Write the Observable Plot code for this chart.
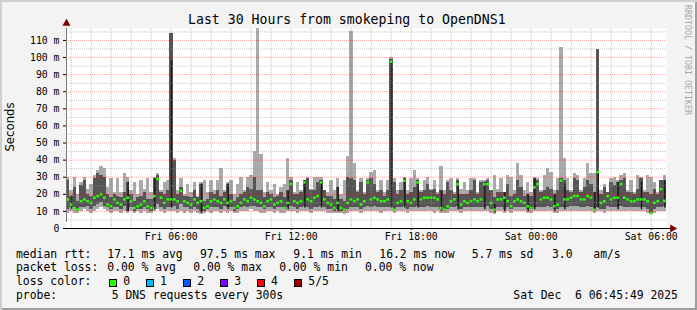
<!DOCTYPE html>
<html><head><meta charset="utf-8">
<script src="https://cdn.jsdelivr.net/npm/d3@7"></script>
<script src="https://cdn.jsdelivr.net/npm/@observablehq/plot@0.6"></script>
<style>
html,body{margin:0;padding:0;background:#ffffff;}
#chart{position:relative;width:697px;height:310px;background:#f3f3f3;overflow:hidden;
  box-shadow: inset 2px 2px 0 #cfcfcf, inset -2px -2px 0 #9e9e9e;
  font-family:"DejaVu Sans Mono",monospace;color:#000;}
#chart svg{position:absolute;left:0;top:0;}
.t{position:absolute;white-space:pre;line-height:1;}
.sw{position:absolute;width:8px;height:8px;box-sizing:border-box;border:1px solid #000;}
</style></head><body><div id="chart"></div>
<script>
// ---- data (10-minute samples, values in ms) ----
const startTime = "2025-12-05T00:45:49Z";
const endTime = "2025-12-06T06:45:49Z";
const stepMinutes = 10;
const lo  = [9,10,9,9,10,11,10,9,10,11,12,11,10,9,10,10,9,10,9,10,9,10,9,10,9,9,10,11,10,9,
             10,10,10,9,10,9,10,9,10,9,8,9,10,9,10,10,9,10,9,10,9,9,10,10,10,11,10,10,9,9,
             10,10,9,10,9,9,10,10,10,9,10,10,10,9,10,10,10,10,9,9,9,9,9,8,9,10,10,10,9,10,
             10,10,10,10,9,10,10,10,9,10,10,10,9,10,10,10,10,10,10,10,9,10,9,9,9,10,10,10,9,10,
             10,10,10,10,10,10,10,9,8,10,10,9,10,9,10,10,10,10,9,9,10,10,10,10,10,10,9,9,10,10,
             10,10,10,10,10,10,10,10,9,10,10,9,10,10,10,10,10,10,10,10,10,10,10,10,9,8,9,10,10,10];
const dlo = [11,12,11,10,12,12,13,11,13,14,15,13,12,11,12,12,11,13,10,12,10,11,11,12,11,10,12,14,12,11,
             12,12,13,11,14,12,12,11,12,11,10,10,11,12,12,12,11,13,12,12,10,11,12,13,12,13,13,12,12,11,
             12,12,11,12,12,11,12,13,12,11,12,13,12,11,12,12,13,12,11,11,10,11,10,10,11,12,12,12,11,12,
             13,12,13,12,12,12,12,12,11,12,12,13,11,12,12,13,12,12,13,12,12,12,11,10,11,12,12,13,11,12,
             12,12,12,12,12,12,13,11,10,12,12,11,12,11,12,12,12,12,11,11,12,12,12,12,13,12,11,11,12,12,
             12,13,13,13,12,12,13,12,10,12,11,11,13,12,12,12,13,12,12,12,12,12,12,12,11,9,11,12,12,13];
const med = [17,14,12,11,16,17,16,15,18,19,20,18,14,13,17,15,14,17,18,16,12,13,14,16,13,12,19,29,18,15,
             17,17,17,16,22,16,15,14,17,15,16,12,13,16,17,16,15,17,15,16,12,13,15,17,16,18,17,16,15,13,
             16,17,14,15,16,12,15,26,16,15,16,27,17,16,18,19,27,17,15,14,12,15,12,11,15,17,16,17,14,16,
             27,17,18,17,16,16,17,97.5,11,15,16,28,16,15,17,27,17,18,18,18,18,17,12,11,13,16,17,26,14,16,
             15,16,17,16,17,26,26,15,11,17,17,18,16,13,16,17,16,15,13,12,24,26,17,18,18,17,13,14,28,17,
             17,18,19,19,17,17,19,18,11,33,15,16,19,17,18,18,26,18,17,16,16,17,17,17,16,9.1,15,16,23,16.2];
const dhi = [28,19,24,16,25,28,20,19,29,32,31,30,20,18,20,
             19,18,21,27,20,16,18,19,21,17,17,29,31,21,20,
             22,114,40,20,24,19,19,18,22,18,26,16,17,21,20,
             22,19,21,26,20,16,18,20,21,24,23,30,22,22,18,
             21,20,18,19,21,18,22,28,20,20,21,28,29,22,22,
             27,28,22,19,19,17,24,17,16,30,29,28,21,27,20,
             28,29,26,21,22,19,22,99,27,20,22,29,20,21,24,
             28,21,22,26,22,23,20,22,20,27,22,20,28,20,20,
             20,22,28,20,27,27,28,22,18,21,21,21,26,19,20,
             28,24,19,20,19,29,28,21,22,24,23,20,22,29,28,
             22,21,29,28,21,24,28,26,21,105,20,24,21,27,25,
             27,28,29,21,21,20,23,29,21,21,20,23,20,28,28];
const hi  = [30,22,30,20,27,30,23,26,31,34,36,35,24,29,21,
             29,21,32,30,22,27,20,28,23,29,21,30,32,22,27,
             28,114,41,22,29,20,26,21,27,19,27,28,21,28,22,
             28,35,22,27,28,20,26,30,22,30,31,45,118,43,21,
             27,22,26,20,24,26,41,30,21,27,22,28,30,23,30,
             30,30,22,21,28,22,29,20,28,42,115,38,22,29,21,
             29,33,34,22,28,21,28,100,29,22,27,30,22,29,34,
             29,22,28,30,23,28,21,36,22,28,29,21,29,23,27,
             22,29,29,21,28,28,29,22,31,23,29,21,31,30,22,
             38,31,22,27,21,30,29,22,31,35,33,22,29,106,41,
             29,22,32,31,22,29,38,32,32,105,22,26,21,29,30,
             28,31,32,22,28,21,31,30,22,31,30,27,21,28,31];
// darkest (black) strokes: sample index, low, high
const blackIdx = [1,18,26,31,40,48,66,71,76,81,97,101,105,112,117,125,128,131,138,140,146,149,158,159,165,172,179];
const blackLo  = [11,10,11,12,9,11,11,12,12,10,12,12,12,10,11,11,9,10,10,11,10,11,10,12,11,11,12];
const blackHi  = [19,27,29,98,26,26,22,28,28,24,98,29,28,22,27,27,14,21,20,29,20,26,21,33,27,27,28];

const yTicks = [0,10,20,30,40,50,60,70,80,90,100,110];
const yTickLabels = ["0","10 m","20 m","30 m","40 m","50 m","60 m","70 m","80 m","90 m","100 m","110 m"];
const xTicks = ["2025-12-05T06:00:00Z","2025-12-05T12:00:00Z","2025-12-05T18:00:00Z","2025-12-06T00:00:00Z","2025-12-06T06:00:00Z"];
const xTickLabels = ["Fri 06:00","Fri 12:00","Fri 18:00","Sat 00:00","Sat 06:00"];

const lossLabels = ["0","1","2","3","4","5/5"];
const lossColors = ["#26ff00","#00b8ff","#0059ff","#7e00ff","#ff0000","#a10000"];

const title = "Last 30 Hours from smokeping to OpenDNS1";
const yLabel = "Seconds";
const rttLine = ["median rtt:","17.1 ms avg","97.5 ms max","9.1 ms min","16.2 ms now","5.7 ms sd","3.0","am/s"];
const lossLine = ["packet loss:","0.00 % avg","0.00 % max","0.00 % min","0.00 % now"];
const probeLine = ["probe:","5 DNS requests every 300s"];
const stamp = "Sat Dec  6 06:45:49 2025";
const credit = "RRDTOOL / TOBI OETIKER";

// ---- build ----
const start = new Date(startTime), end = new Date(endTime);
const stepMs = stepMinutes*60000;
const samples = lo.map((v,i)=>({t0:new Date(+start+i*stepMs), t1:new Date(+start+(i+1)*stepMs),
  lo:v, dlo:dlo[i], med:med[i], dhi:dhi[i], hi:hi[i]}));
const blacks = blackIdx.map((k,j)=>({t:new Date(+start+(k+0.5)*stepMs), lo:blackLo[j], hi:blackHi[j]}));
const xTickDates = xTicks.map(s=>new Date(s));
const xLabelMap = new Map(xTickDates.map((d,i)=>[+d, xTickLabels[i]]));
const yLabelMap = new Map(yTicks.map((d,i)=>[d, yTickLabels[i]]));
const yMax = 117;
const majorY = d3.range(10, yMax, 10);
const minorY = d3.range(5, yMax, 10);
const allHours = d3.utcHour.range(start, end);
const majorX = allHours.filter(d=>d.getUTCHours()%3===0);
const minorX = allHours.filter(d=>d.getUTCHours()%3!==0);

const plot = Plot.plot({
  width: 697, height: 310,
  marginLeft: 66, marginRight: 31, marginTop: 28, marginBottom: 82,
  style: {background:"transparent", fontFamily:"DejaVu Sans Mono", fontSize:"9.8px", color:"#000", overflow:"visible"},
  x: {type:"utc", domain:[start,end], ticks:xTickDates, tickFormat:d=>xLabelMap.get(+d), tickSize:2, tickPadding:3, label:null},
  y: {domain:[0,yMax], ticks:yTicks, tickFormat:d=>yLabelMap.get(d), tickSize:3, tickPadding:4, label:null},
  marks: [
    Plot.frame({fill:"#ffffff", stroke:"none"}),
    Plot.rect(samples, {x1:"t0", x2:"t1", y1:"lo", y2:"hi", fill:"#aaaaaa", clip:true, shapeRendering:"crispEdges"}),
    Plot.rect(samples, {x1:"t0", x2:"t1", y1:"dlo", y2:"dhi", fill:"#555555", clip:true, shapeRendering:"crispEdges"}),
    Plot.ruleX(blacks, {x:"t", y1:"lo", y2:"hi", stroke:"#161616", strokeWidth:1.4}),
    Plot.ruleY(samples, {x1:"t0", x2:"t1", y:"med", stroke:lossColors[0], strokeWidth:2.5, insetLeft:0.3, insetRight:0.3}),
    Plot.ruleY(minorY, {stroke:"rgba(150,150,150,0.55)", strokeDasharray:"1,1"}),
    Plot.ruleX(minorX, {stroke:"rgba(150,150,150,0.55)", strokeDasharray:"1,1"}),
    Plot.ruleY(majorY, {stroke:"rgba(255,0,0,0.35)", strokeDasharray:"1,1"}),
    Plot.ruleX(majorX, {stroke:"rgba(255,0,0,0.35)", strokeDasharray:"1,1"}),
    Plot.ruleX([start], {y1:0, y2:yMax, stroke:"#777777", insetTop:-6}),
    Plot.ruleY([0], {stroke:"#000000", insetLeft:-3, insetRight:-5}),
    Plot.dot([start], {x:d=>d, y:()=>yMax, dy:-5, symbol:"triangle", r:3, fill:"#7f0000", stroke:"none"}),
    Plot.dot([end], {x:d=>d, y:()=>0, dx:6, symbol:"triangle", rotate:90, r:3, fill:"#7f0000", stroke:"none"})
  ]
});
const chart = document.getElementById("chart");
chart.appendChild(plot);

function put(txt, x, base, size, extra) {
  const d = document.createElement("div");
  d.className = "t"; d.textContent = txt;
  d.style.fontSize = size + "px";
  d.style.left = x + "px";
  d.style.top = (base - 0.846*size) + "px";
  if (extra) Object.assign(d.style, extra);
  chart.appendChild(d);
  return d;
}
const LF = 11.4;
put(title, 188, 24, 13.2);
const yl = document.createElement("div");
yl.className = "t"; yl.textContent = yLabel;
Object.assign(yl.style, {fontFamily:'"DejaVu Sans",sans-serif', fontSize:"11.7px", left:"11px", top:"127px",
  transform:"translate(-50%,-50%) rotate(-90deg)"});
chart.appendChild(yl);
put(credit, 684, 0, 8.3, {top:"5px", writingMode:"vertical-rl", color:"#a6a6a6"});
const rttX = [16,107.3,200,293.3,379.3,471.7,552,593.3];
rttLine.forEach((s,i)=>put(s, rttX[i], 258.5, LF));
const lossX = [16,107.3,193.3,279.3,365];
lossLine.forEach((s,i)=>put(s, lossX[i], 272.1, LF));
put("loss color:", 16, 285.7, LF);
const swX = [108.5,145.5,182.5,219.5,256.5,293.5];
const lbX = [123.3,160,197.3,234.3,271,308.3];
lossLabels.forEach((s,i)=>{
  const sw = document.createElement("div"); sw.className="sw";
  sw.style.left = swX[i]+"px"; sw.style.top = "278.5px"; sw.style.background = lossColors[i];
  chart.appendChild(sw);
  put(s, lbX[i], 285.7, LF);
});
put(probeLine[0], 16, 299.3, LF);
put(probeLine[1], 111.7, 299.3, LF);
put(stamp, 513.3, 299.3, LF);
</script></body></html>
